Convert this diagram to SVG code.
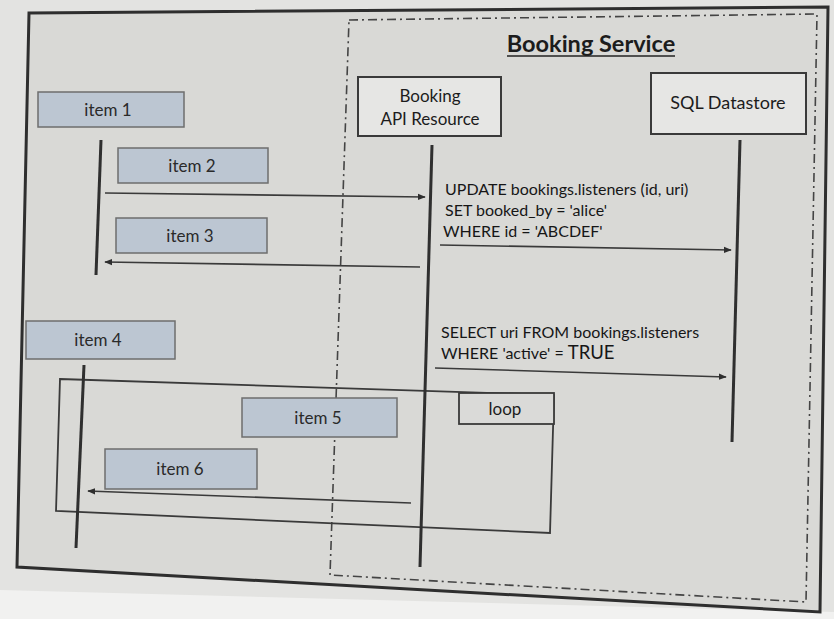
<svg xmlns="http://www.w3.org/2000/svg" width="834" height="619" viewBox="0 0 834 619">
<defs>
<style>
.frame{fill:none;stroke:#2e2e2e;stroke-width:3}
.bound{fill:none;stroke:#444;stroke-width:1.6;stroke-dasharray:9 4 2 4}
.part{fill:#e6e6e4;stroke:#3a3a3a;stroke-width:2}
.item{fill:#bcc6d2;stroke:#6e6e6e;stroke-width:1.5}
.life{stroke:#2f2f2f;stroke-width:3;fill:none}
.msg{stroke:#3a3a3a;stroke-width:1.6;fill:none}
.t{font-family:Lato,"Liberation Sans",sans-serif;fill:#1c1c1c}
.it{font-family:Lato,"Liberation Sans",sans-serif;fill:#2a2a2a;font-size:17px;text-anchor:middle}
.sql{font-family:Lato,"Liberation Sans",sans-serif;fill:#161616;font-size:16px}
</style>
<marker id="ah" viewBox="0 0 10 10" refX="9" refY="5" markerWidth="5" markerHeight="5" orient="auto-start-reverse" markerUnits="strokeWidth">
<path d="M0,1 L10,5 L0,9 z" fill="#2e2e2e"/>
</marker>
</defs>
<rect x="0" y="0" width="834" height="619" fill="#e3e3e1"/>
<polygon points="0,590 834,612 834,619 0,619" fill="#f1f1f0"/>
<g id="outer-frame">
<polygon points="29,13 828,7 820,612 17,567" fill="#d9d9d6"/>
<polygon class="frame" points="29,13 828,7 820,612 17,567"/>
</g>
<g id="booking-service">
<polygon class="bound" points="349,20 817,14 806,602 330,575"/>
<text class="t" x="591" y="52" font-size="23.5" font-weight="bold" text-anchor="middle">Booking Service</text>
<line x1="507" y1="56" x2="675" y2="56" stroke="#222" stroke-width="1.6"/>
</g>
<g id="booking-api">
<rect class="part" x="358" y="77" width="143" height="59"/>
<text class="t" x="430" y="102" font-size="17" text-anchor="middle">Booking</text>
<text class="t" x="430" y="125" font-size="17" text-anchor="middle">API Resource</text>
</g>
<g id="sql-datastore">
<rect class="part" x="651" y="73" width="155" height="61"/>
<text class="t" x="728" y="109" font-size="18" text-anchor="middle">SQL Datastore</text>
</g>
<g id="loop">
<polygon points="60,379 554,395 550,533 56,511" fill="none" stroke="#3a3a3a" stroke-width="1.8"/>
<rect x="459" y="393" width="95" height="31" fill="#dadad8" stroke="#3a3a3a" stroke-width="1.8"/>
<text class="t" x="505" y="415" font-size="17" text-anchor="middle">loop</text>
</g>
<g id="lifelines">
<line class="life" x1="432" y1="145" x2="420" y2="567"/>
<line class="life" x1="740" y1="140" x2="732" y2="442"/>
<line class="life" x1="101" y1="140" x2="96" y2="275"/>
<line class="life" x1="84" y1="365" x2="76" y2="548"/>
</g>
<g id="item1"><rect class="item" x="38" y="92" width="146" height="35"/><text class="it" x="108" y="116">item 1</text></g>
<g id="item2"><rect class="item" x="118" y="148" width="150" height="35"/><text class="it" x="192" y="172">item 2</text></g>
<g id="item3"><rect class="item" x="116" y="218" width="151" height="35"/><text class="it" x="190" y="242">item 3</text></g>
<g id="item4"><rect class="item" x="26" y="321" width="149" height="38"/><text class="it" x="98" y="346">item 4</text></g>
<g id="item5"><rect class="item" x="242" y="398" width="155" height="39"/><text class="it" x="318" y="424">item 5</text></g>
<g id="item6"><rect class="item" x="105" y="449" width="152" height="40"/><text class="it" x="180" y="475">item 6</text></g>
<g id="connectors">
<line class="msg" x1="105" y1="193" x2="425" y2="197" marker-end="url(#ah)"/>
<line class="msg" x1="420" y1="267" x2="105" y2="262" marker-end="url(#ah)"/>
<line class="msg" x1="440" y1="245" x2="731" y2="250" marker-end="url(#ah)"/>
<line class="msg" x1="435" y1="368" x2="726" y2="377" marker-end="url(#ah)"/>
<line class="msg" x1="411" y1="503" x2="88" y2="491" marker-end="url(#ah)"/>
</g>
<g id="labels">
<text class="sql" x="445" y="195">UPDATE bookings.listeners (id, uri)</text>
<text class="sql" x="445" y="216">SET booked_by = 'alice'</text>
<text class="sql" x="443" y="237">WHERE id = 'ABCDEF'</text>
<text class="sql" x="441" y="338">SELECT uri FROM bookings.listeners</text>
<text class="sql" x="441" y="359">WHERE 'active' = <tspan font-size="18.5">TRUE</tspan></text>
</g>
</svg>
